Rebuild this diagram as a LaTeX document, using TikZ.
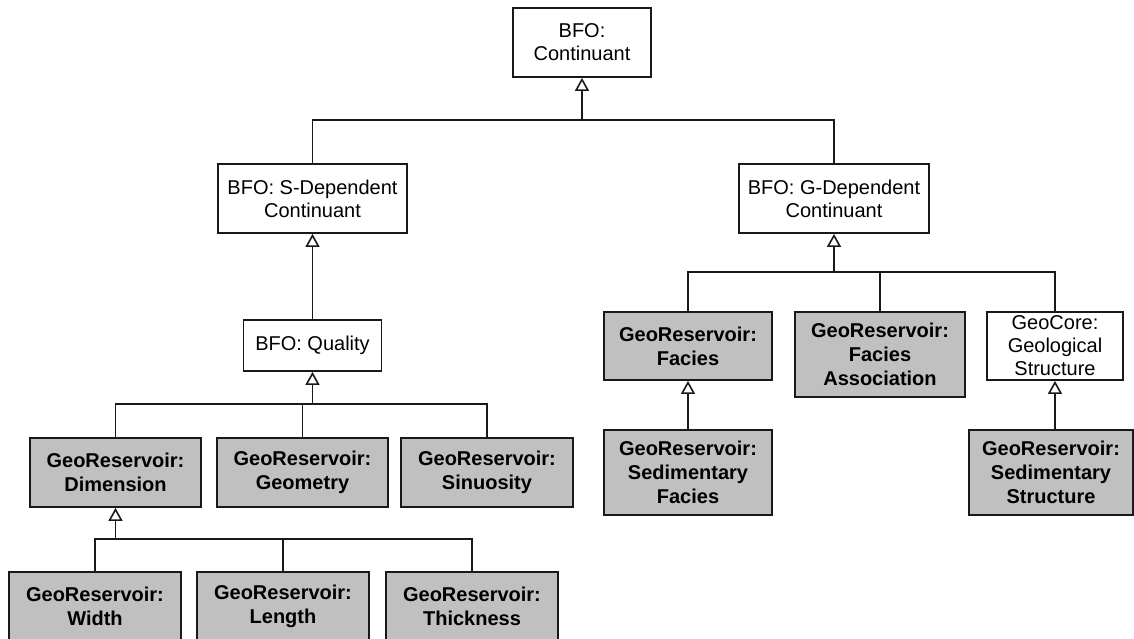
\documentclass[tikz,border=0pt]{standalone}
\usepackage{fontspec}
\setmainfont{Liberation Sans}
\usetikzlibrary{arrows.meta}
\definecolor{boxgray}{HTML}{C0C0C0}
\begin{document}
\begin{tikzpicture}[x=1bp,y=-1bp,
  box/.style={draw=black!90, line width=1.8bp, inner sep=0pt, align=center},
  plain/.style={box, fill=white, font=\fontsize{20bp}{23bp}\selectfont},
  geo/.style={box, fill=boxgray, font=\fontsize{20bp}{24bp}\selectfont\bfseries},
  link/.style={line width=1.5bp, draw=black!90},
  gen/.style={link, line width=1.9bp, -{Triangle[open, width=14bp, length=13bp, line width=1.6bp]}},
]
\useasboundingbox (0,0) rectangle (1134,639);
\clip (0,0) rectangle (1134,639);

% BFO upper classes
\node[plain, minimum width=138bp, minimum height=69bp] (cont) at (582,42.5) {BFO:\\Continuant};
\node[plain, minimum width=189bp, minimum height=69bp] (sdep) at (312.5,198.5) {BFO: S-Dependent\\Continuant};
\node[plain, minimum width=190bp, minimum height=69bp] (gdep) at (834,198.5) {BFO: G-Dependent\\Continuant};
\node[plain, minimum width=138bp, minimum height=51bp] (qual) at (312.5,345.5) {BFO: Quality};

% qualities
\node[geo, minimum width=171bp, minimum height=69bp] (dim) at (115.5,472.5) {GeoReservoir:\\Dimension};
\node[geo, minimum width=171bp, minimum height=69bp] (geom) at (302.5,472.5) {GeoReservoir:\\Geometry};
\node[geo, minimum width=172bp, minimum height=69bp] (sinu) at (487,472.5) {GeoReservoir:\\Sinuosity};
\node[geo, minimum width=172bp, minimum height=69bp] (width) at (95,606.5) {GeoReservoir:\\Width};
\node[geo, minimum width=172bp, minimum height=69bp] (length) at (283,606.5) {GeoReservoir:\\Length};
\node[geo, minimum width=172bp, minimum height=69bp] (thick) at (472,606.5) {GeoReservoir:\\Thickness};

% generically dependent side
\node[geo, minimum width=168bp, minimum height=68bp] (facies) at (688,346) {GeoReservoir:\\Facies};
\node[geo, minimum width=170bp, minimum height=85bp] (assoc) at (880,354.5) {GeoReservoir:\\Facies\\Association};
\node[plain, minimum width=136bp, minimum height=68bp] (geocore) at (1055,346) {GeoCore:\\Geological\\Structure};
\node[geo, minimum width=168bp, minimum height=85bp] (sedfac) at (688,472.5) {GeoReservoir:\\Sedimentary\\Facies};
\node[geo, minimum width=164bp, minimum height=85bp] (sedstr) at (1051,472.5) {GeoReservoir:\\Sedimentary\\Structure};

% junction points of the generalisation trees
\coordinate (j0) at (582,120);
\coordinate (jq) at (312.5,404);
\coordinate (jd) at (115.5,539);
\coordinate (jg) at (834,272);

\draw[link] (sdep.north) |- (j0);
\draw[link] (gdep.north) |- (j0);
\draw[gen] (j0) -- (cont.south);

\draw[gen] (qual.north) -- (sdep.south);

\draw[link] (dim.north) |- (jq);
\draw[link] (geom.north) |- (jq);
\draw[link] (sinu.north) |- (jq);
\draw[gen] (jq) -- (qual.south);

\draw[link] (width.north) |- (jd);
\draw[link] (length.north) |- (jd);
\draw[link] (thick.north) |- (jd);
\draw[gen] (jd) -- (dim.south);

\draw[link] (facies.north) |- (jg);
\draw[link] (assoc.north) |- (jg);
\draw[link] (geocore.north) |- (jg);
\draw[gen] (jg) -- (gdep.south);

\draw[gen] (sedfac.north) -- (facies.south);
\draw[gen] (geocore.south |- sedstr.north) -- (geocore.south);
\end{tikzpicture}
\end{document}
